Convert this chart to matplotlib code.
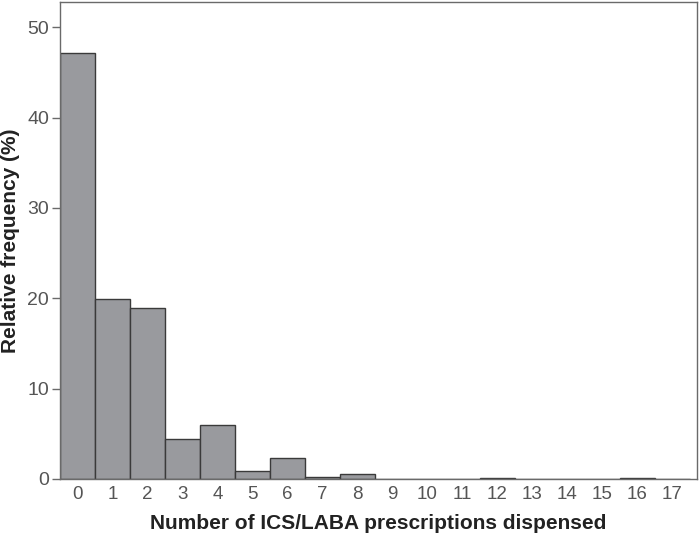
import numpy as np
import matplotlib.pyplot as plt

plt.rcParams['font.family'] = ['Liberation Sans', 'DejaVu Sans']

counts = list(range(18))
freq = [47.2, 19.9, 18.9, 4.4, 6.0, 0.9, 2.3, 0.25, 0.5, 0, 0, 0, 0.15, 0, 0, 0, 0.15, 0]
labels = [str(c) for c in counts]

fig = plt.figure(figsize=(7, 5.35), dpi=100)
ax = fig.add_axes([0.0857, 0.1047, 0.91, 0.8916])

ax.bar(counts, freq, width=1.0, color='#999a9e', edgecolor='#3a3a3a', linewidth=1.0)

ax.set_xlim(-0.5, 17.7)
ax.set_ylim(0, 52.8)
ax.set_yticks([0, 10, 20, 30, 40, 50])
ax.set_xticks(counts)
ax.set_xticklabels(labels)

for s in ax.spines.values():
    s.set_color('#6a6a6a')
    s.set_linewidth(1.0)

ax.tick_params(axis='y', length=6, width=1, color='#6a6a6a', labelsize=14, labelcolor='#555555', pad=2)
ax.tick_params(axis='x', length=0, pad=5, labelsize=13.5, labelcolor='#555555')

ax.set_xlabel('Number of ICS/LABA prescriptions dispensed', fontsize=15, fontweight='bold', color='#222222', labelpad=8)
ax.set_ylabel('Relative frequency (%)', fontsize=15, fontweight='bold', color='#222222', labelpad=5)

fig.savefig('out.png', dpi=100)
